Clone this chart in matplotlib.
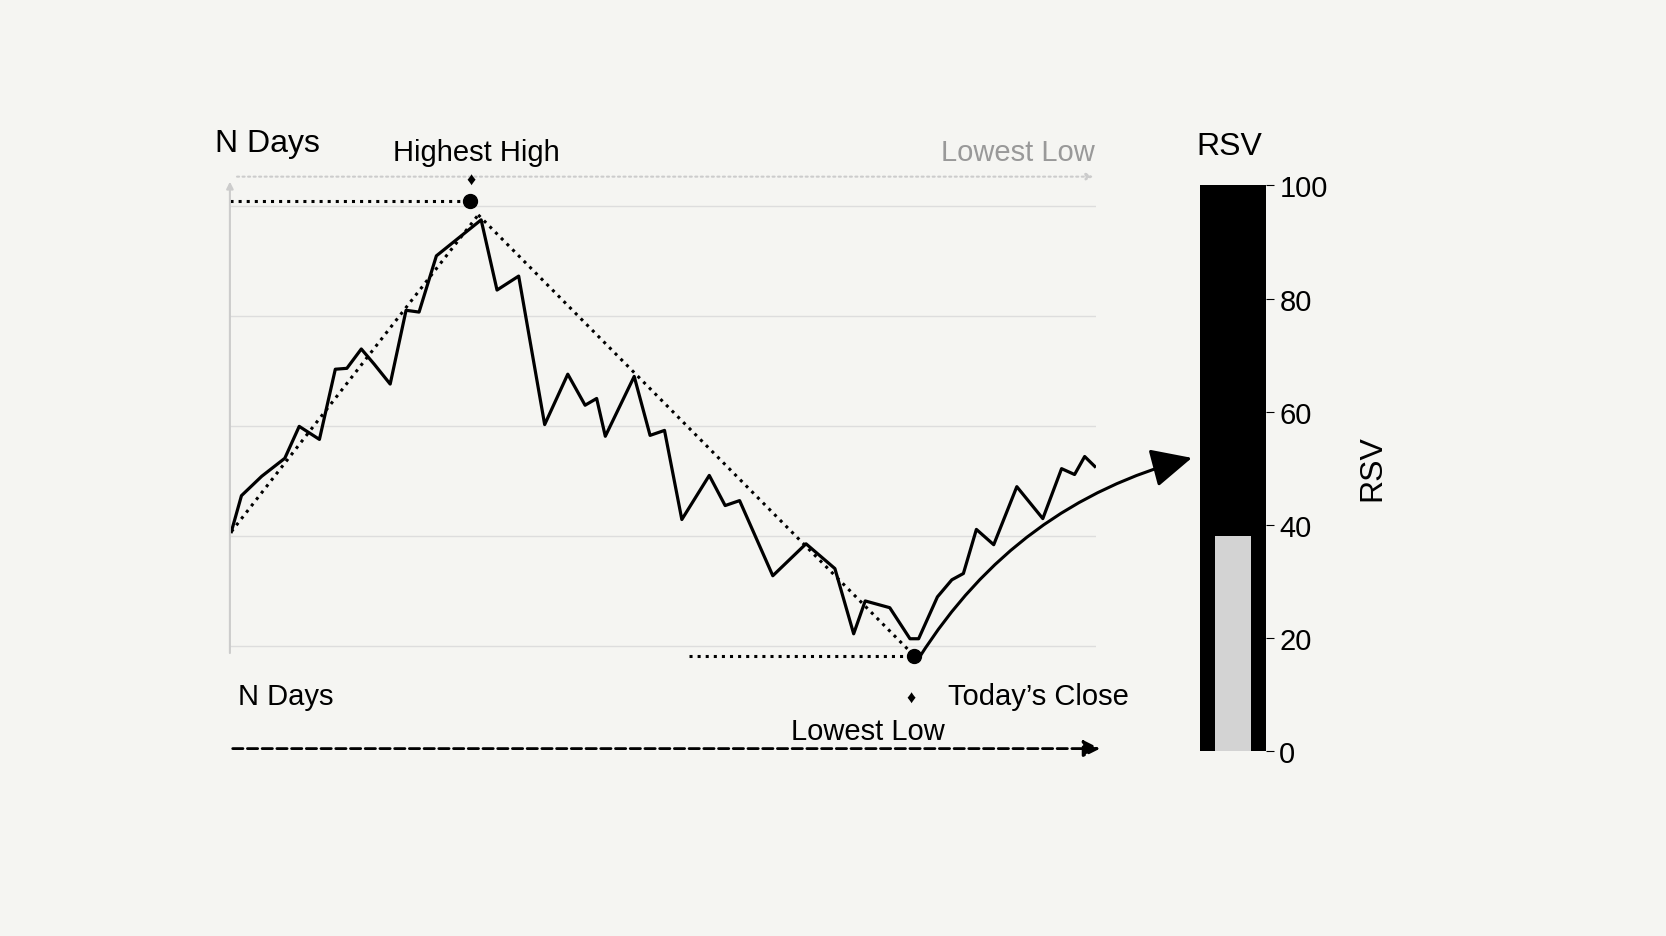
import numpy as np
import matplotlib.pyplot as plt
from matplotlib.patches import FancyArrowPatch

plt.rcParams['font.family'] = ['Liberation Sans', 'DejaVu Sans']

# price path over the N-day window
days = [0.1, 0.8, 2.2, 3.8, 4.8, 6.2, 7.3, 8.1, 9.1, 10.0, 11.1, 12.2, 13.1, 14.3,
        17.4, 18.5, 20.0, 21.8, 23.4, 24.6, 25.4, 26.0, 28.0, 29.1, 30.1, 31.3,
        33.2, 34.3, 35.3, 37.6, 39.9, 41.9, 43.2, 44.0, 45.7, 47.1, 47.7, 49.0,
        50.0, 50.8, 51.7, 52.9, 54.5, 56.3, 57.6, 58.5, 59.2, 59.9]
price = [27.6, 35.6, 39.9, 43.9, 51.0, 48.1, 63.7, 63.9, 68.2, 64.8, 60.4, 76.8,
         76.4, 88.9, 96.9, 81.3, 84.4, 51.4, 62.6, 55.7, 57.2, 48.8, 62.1, 49.0,
         50.1, 30.3, 40.1, 33.4, 34.5, 17.8, 24.9, 19.4, 4.9, 12.2, 10.7, 3.8,
         3.8, 13.1, 16.9, 18.3, 28.1, 24.7, 37.6, 30.5, 41.6, 40.3, 44.3, 42.1]
high_day, high_val = 16.6, 100.0
low_day, low_val = 47.4, 0.0
rsv_value = 38
rsv_ticks = [0, 20, 40, 60, 80, 100]

bg = '#f5f5f2'
fig = plt.figure(figsize=(16.66, 9.37), dpi=100, facecolor=bg)

ax = fig.add_axes([0.138, 0.299, 0.520, 0.509])
ax.set_facecolor(bg)
ax.set_xlim(0, 60)
ax.set_ylim(0, 106)
for s in ax.spines.values():
    s.set_visible(False)
ax.set_xticks([])
ax.set_yticks([])
for g in [2.2, 26.7, 51, 75.5, 100]:
    ax.axhline(g, color='#dddddd', lw=1, zorder=0)

ax.plot(days, price, color='black', lw=2.3, zorder=3)

# trend dotted lines
ax.plot([days[0], high_day + 0.6], [price[0], high_val - 2], ':', color='black', lw=2.2)
ax.plot([high_day + 0.6, low_day], [high_val - 2, low_val], ':', color='black', lw=2.2,
        clip_on=False)
ax.plot([0, high_day], [high_val + 1, high_val + 1], ':', color='black', lw=2.2)
ax.plot([31.8, low_day], [low_val, low_val], ':', color='black', lw=2.2, clip_on=False)
ax.plot([high_day], [high_val + 1], 'o', color='black', ms=10, zorder=5)
ax.plot([low_day], [low_val], 'o', color='black', ms=10, zorder=5, clip_on=False)

# faint axes arrows
ax.annotate('', xy=(0, 106), xytext=(0, 0),
            arrowprops=dict(arrowstyle='-|>', color='#cccccc', lw=1.5), annotation_clip=False)
ax.annotate('', xy=(60, 106.5), xytext=(0.3, 106.5),
            arrowprops=dict(arrowstyle='-|>', color='#cccccc', lw=1.5, linestyle=':'),
            annotation_clip=False)

# texts
fig.text(0.129, 0.838, 'N Days', fontsize=23)
fig.text(0.236, 0.828, 'Highest High', fontsize=21)
fig.text(0.283, 0.803, '♦', fontsize=13, ha='center')
fig.text(0.657, 0.828, 'Lowest Low', fontsize=21, color='#999999', ha='right')
fig.text(0.143, 0.248, 'N Days', fontsize=21)
fig.text(0.547, 0.250, '♦', fontsize=13, ha='center')
fig.text(0.569, 0.248, 'Today’s Close', fontsize=21)
fig.text(0.475, 0.210, 'Lowest Low', fontsize=21)
fig.add_artist(FancyArrowPatch((0.138, 0.200), (0.662, 0.200), transform=fig.transFigure,
                               arrowstyle='-|>,head_length=10,head_width=5',
                               linestyle='--', lw=2, color='black'))

# curved arrow into RSV bar
fig.add_artist(FancyArrowPatch((0.551, 0.295), (0.717, 0.511), transform=fig.transFigure,
                               connectionstyle='arc3,rad=-0.2',
                               arrowstyle='-|>,head_length=25,head_width=12',
                               lw=2.2, color='black'))

# RSV bar
bx = fig.add_axes([0.720, 0.197, 0.040, 0.604])
bx.set_facecolor(bg)
bx.bar([0], [100], width=1, color='black')
bx.bar([0], [rsv_value], width=0.54, color='#d3d3d3')
bx.set_xlim(-0.5, 0.5)
bx.set_ylim(0, 100)
bx.set_xticks([])
bx.set_yticks(rsv_ticks)
bx.yaxis.tick_right()
bx.tick_params(axis='y', labelsize=21, length=6)
for s in bx.spines.values():
    s.set_visible(False)
fig.text(0.718, 0.835, 'RSV', fontsize=23)
fig.text(0.815, 0.50, 'RSV', fontsize=23, rotation=90, va='center')

fig.savefig('out.png', dpi=100, facecolor=bg)
